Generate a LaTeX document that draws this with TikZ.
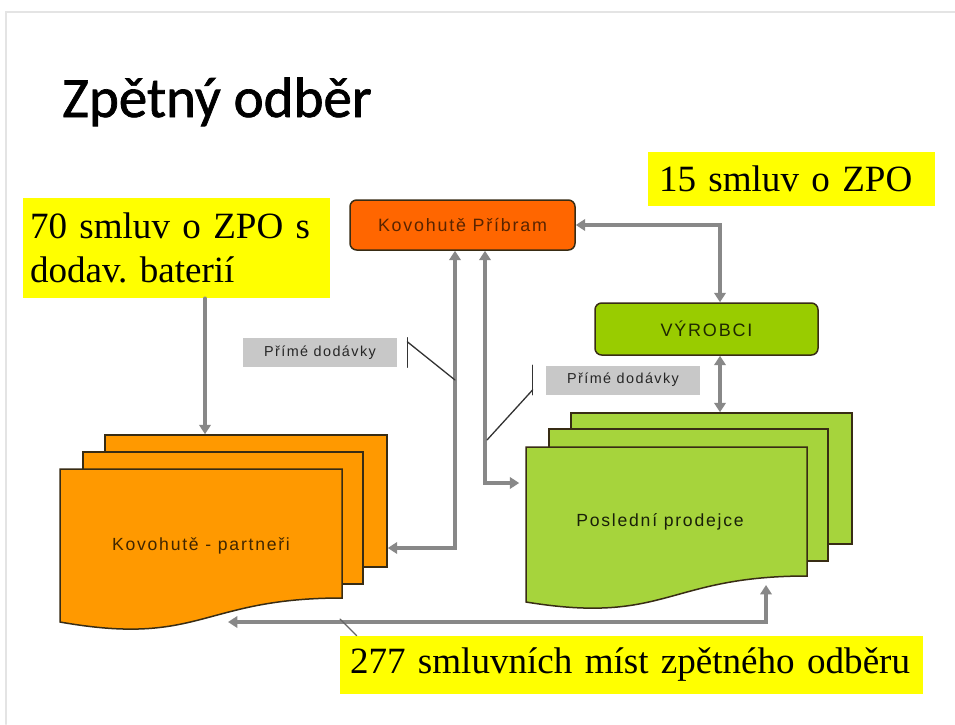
\documentclass[tikz,border=0pt]{standalone}
\usepackage{fontspec}
\setmainfont[WordSpace=0.7]{Liberation Serif}
\newfontfamily\titlefont[FakeBold=1.2]{Carlito}
\newfontfamily\boxfont[LetterSpace=10]{Liberation Sans}
\usetikzlibrary{arrows.meta}
\definecolor{zluta}{RGB}{255, 255, 0}
\definecolor{kovo}{RGB}{255, 102, 0}
\definecolor{partner}{RGB}{255, 153, 0}
\definecolor{vyrob}{RGB}{153, 204, 0}
\definecolor{prodej}{RGB}{166, 212, 60}
\definecolor{tagfill}{RGB}{200, 200, 200}
\definecolor{linkgray}{RGB}{136, 136, 136}
\definecolor{edge}{RGB}{56, 44, 20}
\definecolor{framegray}{RGB}{228, 228, 228}
\def\px{0.75pt}
\frenchspacing

\begin{document}
\begin{tikzpicture}[x=\px, y=-\px, line cap=round,
        zpobox/.style={fill=zluta, inner ysep=0pt, align=left,
            font=\fontsize{27.8}{33}\selectfont},
        sheet/.style={draw=edge, line width=1.5*\px},
        hub/.style={draw=edge, line width=1.5*\px, rounded corners=5pt,
            font=\boxfont\fontsize{13.4}{15}\selectfont},
        doctext/.style={font=\boxfont\fontsize{13.2}{15}\selectfont, minimum height=10pt},
        tagbox/.style={fill=tagfill, text=black!85, inner sep=0pt,
            minimum width=154*\px, minimum height=29*\px,
            font=\boxfont\fontsize{10.8}{12}\selectfont},
        flow/.style={draw=linkgray, line width=3.5*\px,
            >={Triangle[length=7pt, width=8.5pt]}},
        callout/.style={draw=black!80, line width=1.3*\px}]

    \useasboundingbox[fill=white] (0, 0) rectangle (955, 724);
    \draw[framegray, line width=2*\px] (6, 724) -- (6, 12) -- (955, 12);

    \node[anchor=base west, inner sep=0pt,
        font=\titlefont\fontsize{42.75}{50}\selectfont] (title) at (62, 117) {Zpětný odběr};

    \node[zpobox, text width=293*\px, inner xsep=7*\px, minimum height=100*\px]
        (dodav) at (176.5, 248) {\mbox{70 smluv o ZPO s}\\\mbox{dodav. baterií}};
    \node[zpobox, text width=265*\px, inner xsep=11*\px, minimum height=54*\px]
        (zpo) at (791.5, 179) {\mbox{15 smluv o ZPO}};
    \node[zpobox, text width=563*\px, inner xsep=10*\px, minimum height=58*\px]
        (mista) at (631.5, 665) {\mbox{277 smluvních míst zpětného odběru}};

    \node[sheet, fill=partner, minimum width=282*\px, minimum height=132*\px]
        (partnerA) at (246, 501) {};
    \node[sheet, fill=partner, minimum width=280*\px, minimum height=132*\px]
        (partnerB) at (223, 518) {};
    \path[sheet, fill=partner] (60, 469) -- (342, 469) -- (342, 598)
        .. controls (201, 598) and (201, 647) .. (60, 622) -- cycle;
    \node[doctext, text=black!75!partner, minimum width=282*\px]
        (partneri) at (201, 546) {Kovohutě - partneři};

    \node[sheet, fill=prodej, minimum width=281*\px, minimum height=131*\px]
        (prodejA) at (711.5, 478.5) {};
    \node[sheet, fill=prodej, minimum width=279*\px, minimum height=132*\px]
        (prodejB) at (688.5, 495) {};
    \path[sheet, fill=prodej] (526, 447) -- (807, 447) -- (807, 576)
        .. controls (666.5, 576) and (666.5, 625) .. (526, 602) -- cycle;
    \node[doctext, text=black!85!prodej, minimum width=281*\px]
        (prodejce) at (660, 522) {Poslední prodejce};

    \node[hub, fill=kovo, text=black!65!kovo, minimum width=225*\px, minimum height=50*\px]
        (pribram) at (462.5, 225) {Kovohutě Příbram};
    \node[hub, fill=vyrob, text=black!80!vyrob, minimum width=223*\px, minimum height=52*\px,
        font=\boxfont\fontsize{13.5}{15}\selectfont]
        (vyrobci) at (706.5, 329) {VÝROBCI};

    \node[tagbox] (prime1) at (320, 352.5) {Přímé dodávky};
    \node[tagbox] (prime2) at (623, 380) {Přímé dodávky};

    \coordinate (drop) at (205, 400);
    \coordinate (knee1) at (455, 548);
    \coordinate (knee2) at (485, 483);
    \coordinate (knee3) at (720, 225);
    \coordinate (foot1) at (228, 622);
    \coordinate (foot2) at (766, 585);
    \coordinate (hit1) at (455, 380);
    \coordinate (hit2) at (487, 440);
    \coordinate (hit3) at (340, 619);

    \draw[flow, ->] (dodav.south -| drop) -- (drop |- partnerA.north);
    \draw[flow, <->] (partnerA.east |- knee1) -- (knee1) -- (knee1 |- pribram.south);
    \draw[flow, <->] (pribram.south -| knee2) -- (knee2) -- (knee2 -| prodejce.west);
    \draw[flow, <->] (pribram.east) -- (knee3) -- (knee3 |- vyrobci.north);
    \draw[flow, <->] (vyrobci.south -| knee3) -- (knee3 |- prodejA.north);
    \draw[flow, <->] (foot1) -| (foot2);

    \draw[callout] ([xshift=10*\px]prime1.north east) -- ([xshift=10*\px]prime1.south east);
    \draw[callout] ([xshift=10*\px, yshift=-4*\px]prime1.north east) -- (hit1);
    \draw[callout] ([xshift=-13*\px]prime2.north west) -- ([xshift=-13*\px]prime2.south west);
    \draw[callout] ([xshift=-13*\px, yshift=5*\px]prime2.south west) -- (hit2);
    \draw[callout, draw=black!60] ([xshift=17*\px]mista.north west) -- (hit3);

\end{tikzpicture}
\end{document}
